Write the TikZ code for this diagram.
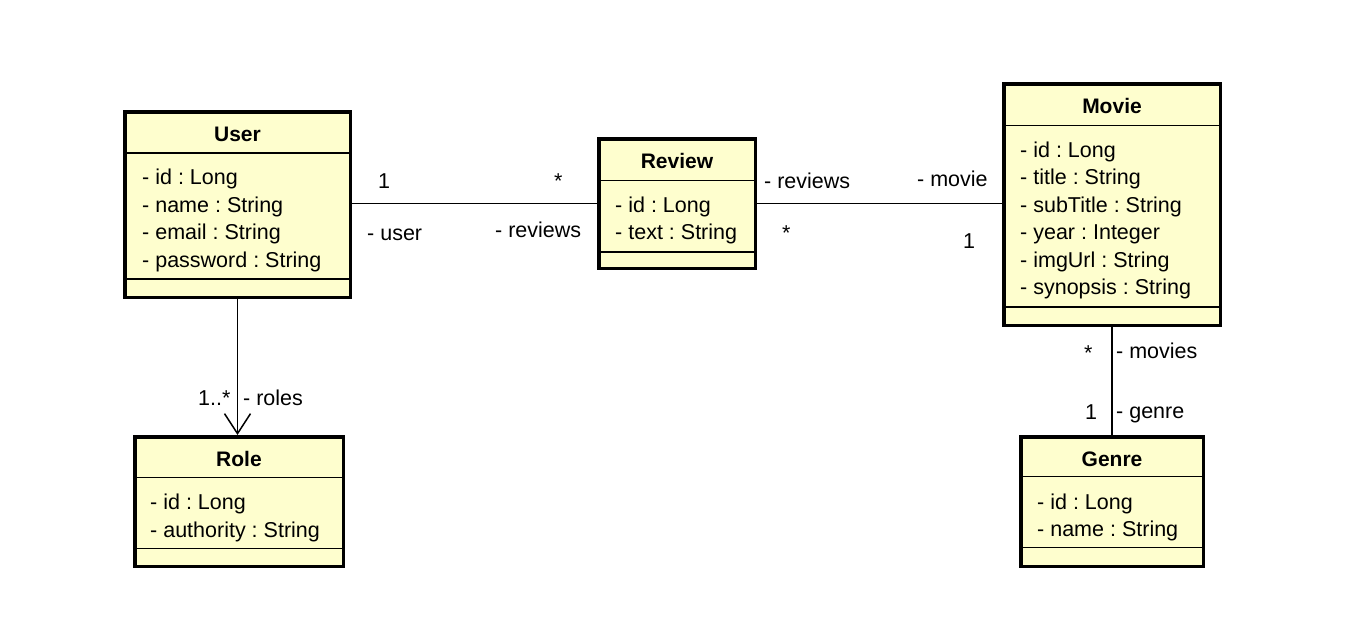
\documentclass[tikz,border=0pt]{standalone}
\usepackage{fontspec}
\setmainfont{Liberation Sans}
\usetikzlibrary{arrows.meta}
\definecolor{classfill}{HTML}{FEFECE}
\frenchspacing
\begin{document}
\begin{tikzpicture}[x=1pt,y=-1pt,
  classbox/.style={draw=black, line width=3.5pt, fill=classfill, inner sep=0pt,
    outer sep=1.75pt, anchor=north west},
  divider/.style={draw=black, line width=1.5pt},
  ctitle/.style={anchor=base, inner sep=0pt, font=\bfseries\fontsize{21}{25}\selectfont},
  attr/.style={anchor=base west, inner sep=0pt, font=\fontsize{21.5}{25}\selectfont},
  lbl/.style={anchor=base west, inner sep=0pt, font=\fontsize{21.5}{25}\selectfont},
  assoc/.style={draw=black, line width=1.5pt}]
\useasboundingbox (0,0) rectangle (1350,629);

% ---- User ----
\node[classbox, minimum width=225.5pt, minimum height=185.5pt] (user) at (123,110) {};
\node[ctitle] (userT) at (237.5,141) {User};
\draw[divider] (user.west |- 0,153) -- (user.east |- 0,153);
\node[attr] (userA1) at (142,184.5) {- id : Long};
\node[attr] (userA2) at (142,212) {- name : String};
\node[attr] (userA3) at (142,239.5) {- email : String};
\node[attr] (userA4) at (142,267) {- password : String};
\draw[divider] (user.west |- 0,279) -- (user.east |- 0,279);

% ---- Review ----
\node[classbox, minimum width=156.5pt, minimum height=129.5pt] (review) at (597,137) {};
\node[ctitle] (reviewT) at (677,168) {Review};
\draw[divider] (review.west |- 0,180.5) -- (review.east |- 0,180.5);
\node[attr] (reviewA1) at (615,212) {- id : Long};
\node[attr] (reviewA2) at (615,239.5) {- text : String};
\draw[divider] (review.west |- 0,252) -- (review.east |- 0,252);

% ---- Movie ----
\node[classbox, minimum width=216.5pt, minimum height=241.5pt] (movie) at (1002,82) {};
\node[ctitle] (movieT) at (1112,113) {Movie};
\draw[divider] (movie.west |- 0,125.5) -- (movie.east |- 0,125.5);
\node[attr] (movieA1) at (1020,157) {- id : Long};
\node[attr] (movieA2) at (1020,184.5) {- title : String};
\node[attr] (movieA3) at (1020,212) {- subTitle : String};
\node[attr] (movieA4) at (1020,239.5) {- year : Integer};
\node[attr] (movieA5) at (1020,267) {- imgUrl : String};
\node[attr] (movieA6) at (1020,294.5) {- synopsis : String};
\draw[divider] (movie.west |- 0,307) -- (movie.east |- 0,307);

% ---- Role ----
\node[classbox, minimum width=208.5pt, minimum height=129.5pt] (role) at (133,435) {};
\node[ctitle] (roleT) at (239,466) {Role};
\draw[divider] (role.west |- 0,477.5) -- (role.east |- 0,477.5);
\node[attr] (roleA1) at (150,509.5) {- id : Long};
\node[attr] (roleA2) at (150,537) {- authority : String};
\draw[divider] (role.west |- 0,548.5) -- (role.east |- 0,548.5);

% ---- Genre ----
\node[classbox, minimum width=182.5pt, minimum height=129.5pt] (genre) at (1019,435) {};
\node[ctitle] (genreT) at (1112,466) {Genre};
\draw[divider] (genre.west |- 0,476.5) -- (genre.east |- 0,476.5);
\node[attr] (genreA1) at (1037,509) {- id : Long};
\node[attr] (genreA2) at (1037,536.5) {- name : String};
\draw[divider] (genre.west |- 0,547.5) -- (genre.east |- 0,547.5);

% ---- associations ----
\draw[assoc] (user.east |- review.west) -- (review.west);
\draw[assoc] (review.east) -- (review.east -| movie.west);
\draw[assoc, -{Straight Barb[length=20pt, width=26pt]}] (user.south) -- (user.south |- role.north);
\draw[assoc] (movie.south) -- (genre.north);

% ---- association end labels ----
\node[lbl] (mUser) at (378,188) {1};
\node[lbl] (mReviewL) at (554,188) {*};
\node[lbl] (rUser) at (367,240) {- user};
\node[lbl] (rReviewsL) at (495,237) {- reviews};
\node[lbl] (rReviewsR) at (764,188) {- reviews};
\node[lbl] (rMovie) at (917,186) {- movie};
\node[lbl] (mReviewR) at (782,240) {*};
\node[lbl] (mMovie) at (963,248) {1};
\node[lbl] (mRoles) at (198,405) {1..*};
\node[lbl] (rRoles) at (243,405) {- roles};
\node[lbl] (mMovies) at (1084,360) {*};
\node[lbl] (rMovies) at (1116,358) {- movies};
\node[lbl] (mGenre) at (1085,419) {1};
\node[lbl] (rGenre) at (1116,418) {- genre};
\end{tikzpicture}
\end{document}
